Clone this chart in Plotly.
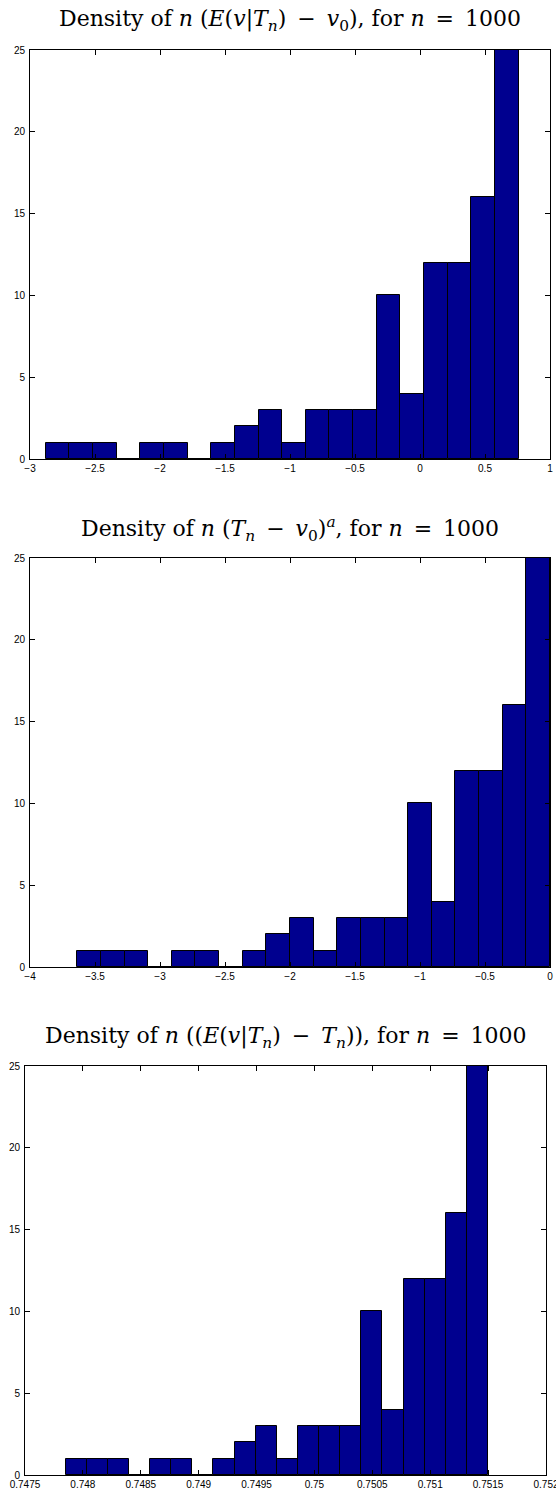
import numpy as np
import plotly.graph_objects as go

# ---- data -------------------------------------------------------------
counts = [1, 1, 1, 0, 1, 1, 0, 1, 2, 3, 1, 3, 3, 3, 10, 4, 12, 12, 16, 25]

p1_bin_start = -2.878
p1_bin_width = 0.1818
p2_bin_start = -3.636
p2_bin_width = 0.1818
p3_bin_start = 0.74785
p3_bin_width = 0.0001825

p1_ticks = [-3, -2.5, -2, -1.5, -1, -0.5, 0, 0.5, 1]
p1_ticktext = ["\u22123", "\u22122.5", "\u22122", "\u22121.5", "\u22121", "\u22120.5", "0", "0.5", "1"]
p2_ticks = [-4, -3.5, -3, -2.5, -2, -1.5, -1, -0.5, 0]
p2_ticktext = ["\u22124", "\u22123.5", "\u22123", "\u22122.5", "\u22122", "\u22121.5", "\u22121", "\u22120.5", "0"]
p3_ticks = [0.7475, 0.748, 0.7485, 0.749, 0.7495, 0.75, 0.7505, 0.751, 0.7515, 0.752]
p3_ticktext = ["0.7475", "0.748", "0.7485", "0.749", "0.7495", "0.75", "0.7505", "0.751", "0.7515", "0.752"]
y_ticks = [0, 5, 10, 15, 20, 25]

S = "\u2002"  # en space, mimics TeX math spacing around operators
titles = [
    f"Density of <i>n</i> (<i>E</i>(<i>v</i>|<i>T<sub>n</sub></i>){S}\u2212{S}<i>v</i><sub>0</sub>), for <i>n</i>{S}={S}1000",
    f"Density of <i>n</i> (<i>T<sub>n</sub></i>{S}\u2212{S}<i>v</i><sub>0</sub>)<sup><i>a</i></sup>, for <i>n</i>{S}={S}1000",
    f"Density of <i>n</i> ((<i>E</i>(<i>v</i>|<i>T<sub>n</sub></i>){S}\u2212{S}<i>T<sub>n</sub></i>)), for <i>n</i>{S}={S}1000",
]

# ---- layout geometry ---------------------------------------------------
W, H = 556, 1496
panels = [
    dict(start=p1_bin_start, width=p1_bin_width, xr=[-3, 1], tv=p1_ticks, tt=p1_ticktext,
         px=(30, 550), py=(50, 459), ty=20),
    dict(start=p2_bin_start, width=p2_bin_width, xr=[-4, 0], tv=p2_ticks, tt=p2_ticktext,
         px=(30, 550), py=(558, 967), ty=529),
    dict(start=p3_bin_start, width=p3_bin_width, xr=[0.7475, 0.752], tv=p3_ticks, tt=p3_ticktext,
         px=(25, 546), py=(1066, 1475), ty=1037),
]

fig = go.Figure()
tickfont = dict(family="Liberation Sans, Arial, sans-serif", size=10, color="black")
annotations = []
for i, p in enumerate(panels):
    k = "" if i == 0 else str(i + 1)
    edges = p["start"] + p["width"] * np.arange(len(counts) + 1)
    centers = (edges[:-1] + edges[1:]) / 2
    fig.add_trace(go.Bar(
        x=centers, y=counts, width=p["width"],
        marker=dict(color="rgb(0,0,143)", line=dict(color="black", width=1)),
        xaxis="x" + k, yaxis="y" + k, showlegend=False, cliponaxis=False,
    ))
    xd = [p["px"][0] / W, p["px"][1] / W]
    yd = [1 - p["py"][1] / H, 1 - p["py"][0] / H]
    common = dict(showline=True, linecolor="black", linewidth=1, mirror="allticks",
                  ticks="inside", ticklen=5, tickcolor="black", showgrid=False,
                  zeroline=False, tickfont=tickfont, automargin=False,
                  ticklabeloverflow="allow")
    fig.update_layout(**{
        "xaxis" + k: dict(domain=xd, range=p["xr"], tickmode="array", tickvals=p["tv"],
                          ticktext=p["tt"], anchor="y" + k, ticklabelstandoff=0, **common),
        "yaxis" + k: dict(domain=yd, range=[0, 25], tickmode="array", tickvals=y_ticks,
                          anchor="x" + k, ticklabelstandoff=2, **common),
    })
    annotations.append(dict(
        text=titles[i], x=(p["px"][0] + p["px"][1]) / 2 / W, y=1 - p["ty"] / H,
        xref="paper", yref="paper", xanchor="center", yanchor="middle", showarrow=False,
        font=dict(family="DejaVu Serif, serif", size=22, color="black"),
    ))

fig.update_layout(
    width=W, height=H, margin=dict(l=0, r=0, t=0, b=0, autoexpand=False),
    paper_bgcolor="white", plot_bgcolor="white", bargap=0,
    annotations=annotations,
)
fig.write_html(
    "out.html",
    config={"displayModeBar": False},
    post_script="document.documentElement.style.overflow='hidden';"
                "document.body.style.margin='0';document.body.style.overflow='hidden';",
)
